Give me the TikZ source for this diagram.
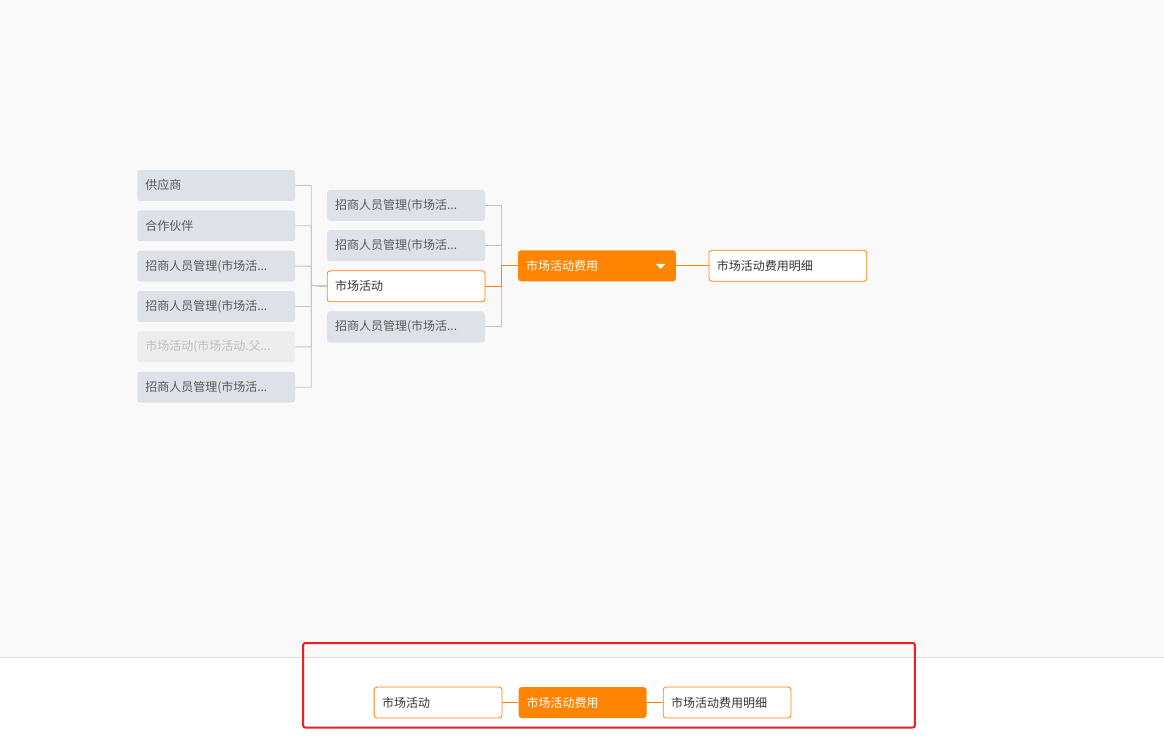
\documentclass[tikz,border=0pt]{standalone}
\usepackage{fontspec}
\newfontfamily\cjk{Noto Sans CJK SC}
\usetikzlibrary{positioning}
\tikzstyle{canvas} = [x = 1pt, y = -1pt, every node/.style={font=\cjk\fontsize{12}{14}\selectfont}]
\definecolor{paperColor}{RGB}{249,249,249}
\definecolor{accentColor}{RGB}{255,132,0}
\definecolor{topicFill}{RGB}{222,225,231}
\definecolor{topicText}{RGB}{89,89,89}
\definecolor{mutedFill}{RGB}{237,237,237}
\definecolor{mutedText}{RGB}{190,190,190}
\definecolor{linkColor}{RGB}{192,196,204}
\definecolor{darkText}{RGB}{51,51,51}
\definecolor{frameColor}{RGB}{240,30,30}
\tikzstyle{topicBase} = [rounded corners = 3pt, minimum height = 31pt, inner xsep = 8pt, inner ysep = 0pt, align = left, text width = 142pt]
\tikzstyle{grayTopic} = [topicBase, fill=topicFill, text=topicText]
\tikzstyle{mutedTopic} = [topicBase, fill=mutedFill, text=mutedText]
\tikzstyle{openTopic} = [topicBase, fill=white, draw=accentColor, line width=.8pt, text=darkText]
\tikzstyle{activeTopic} = [topicBase, fill=accentColor, text=white]
\tikzstyle{navTopic} = [text width = 112pt]
\tikzstyle{linkLine} = [color=linkColor, line width=.8pt]
\tikzstyle{activeLine} = [color=accentColor, line width=.8pt]
\newcommand{\recruitText}{招商人员管理(市场活...}

\begin{document}
\begin{tikzpicture}[canvas]
        % background and footer panel
        \fill [paperColor] (0,0) rectangle (1164,742);
        \fill [white] (0,658) rectangle (1164,742);
        \draw [color=linkColor!60, line width=.8pt] (0,658) -- (1164,658);

        % left column
        \node [grayTopic] (supplier) at (216,185.5) {供应商};
        \node [grayTopic, below = 9pt of supplier] (partner) {合作伙伴};
        \node [grayTopic, below = 9pt of partner] (recruitOne) {\recruitText};
        \node [grayTopic, below = 9pt of recruitOne] (recruitTwo) {\recruitText};
        \node [mutedTopic, below = 9pt of recruitTwo] (parentActivity) {市场活动(市场活动.父...};
        \node [grayTopic, below = 9pt of parentActivity] (recruitThree) {\recruitText};

        % middle column
        \node [grayTopic] (recruitA) at (406,205.5) {\recruitText};
        \node [grayTopic, below = 9pt of recruitA] (recruitB) {\recruitText};
        \node [openTopic, below = 9pt of recruitB] (activity) {市场活动};
        \node [grayTopic, below = 9pt of activity] (recruitC) {\recruitText};

        % current topic and its child
        \node [activeTopic] (expense) at (597,266) {市场活动费用};
        \node [openTopic] (detail) at (788,266) {市场活动费用明细};
        \fill [white] ([xshift=-20.5pt, yshift=2pt]expense.east) -- ++(10,0) -- ++(-5,5) -- cycle;

        \coordinate (leftJoin) at (311,285.5);
        \coordinate (midJoin) at (501,266);
        \foreach \topic in {supplier,partner,recruitOne,recruitTwo,parentActivity,recruitThree}
          \draw [linkLine] (\topic.east) -| (leftJoin) -- (activity.west);
        \foreach \topic in {recruitA,recruitB,recruitC}
          \draw [linkLine] (\topic.east) -| (midJoin);
        \draw [activeLine] (activity.east) -| (midJoin) -- (expense.west);
        \draw [activeLine] (expense.east) -- (detail.west);

        % breadcrumb
        \node [openTopic, navTopic] (navActivity) at (438,703) {市场活动};
        \node [activeTopic, navTopic, right = 16pt of navActivity] (navExpense) {市场活动费用};
        \node [openTopic, navTopic, right = 16pt of navExpense] (navDetail) {市场活动费用明细};
        \draw [activeLine] (navActivity) -- (navExpense);
        \draw [activeLine] (navExpense) -- (navDetail);
        \draw [frameColor, line width=2pt, rounded corners=2pt] (303,643.5) rectangle (915,728);
      \end{tikzpicture}
\end{document}
